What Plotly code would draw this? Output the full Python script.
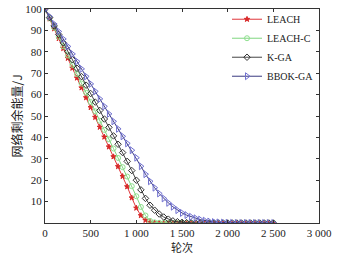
import plotly.graph_objects as go

rounds = list(range(0, 2501, 50))

leach = [100, 95.4, 90.8, 86.2, 81.6, 77.0, 72.4, 67.8, 63.2, 58.6,
         54.0, 49.4, 44.8, 40.2, 35.6, 31.0, 26.4, 21.8, 17.0, 11.8,
         7.0, 3.5, 1.3, 0.4, 0.1, 0, 0, 0, 0, 0,
         0, 0, 0, 0, 0, 0, 0, 0, 0, 0,
         0, 0, 0, 0, 0, 0, 0, 0, 0, 0, 0]

leach_c = [100, 95.7, 91.3, 87.0, 82.6, 78.3, 73.9, 69.6, 65.2, 60.9,
           56.5, 52.2, 47.8, 43.5, 39.1, 34.8, 30.4, 26.1, 21.7, 17.2,
           12.5, 7.5, 3.5, 1.0, 0.3, 0.1, 0, 0, 0, 0,
           0, 0, 0, 0, 0, 0, 0, 0, 0, 0,
           0, 0, 0, 0, 0, 0, 0, 0, 0, 0, 0]

k_ga = [100, 96.0, 92.1, 88.1, 84.2, 80.2, 76.3, 72.3, 68.4, 64.4,
        60.5, 56.5, 52.6, 48.6, 44.7, 40.7, 36.8, 32.9, 28.8, 24.5,
        20.0, 15.5, 11.5, 8.3, 6.0, 4.2, 2.8, 1.8, 1.0, 0.6,
        0.3, 0.15, 0.05, 0, 0, 0, 0, 0, 0, 0,
        0, 0, 0, 0, 0, 0, 0, 0, 0, 0, 0]

bbok_ga = [100, 96.5, 93.0, 89.5, 86.0, 82.5, 79.0, 75.5, 72.0, 68.5,
           65.0, 61.5, 58.0, 54.5, 51.0, 47.5, 44.0, 40.5, 37.2, 34.0,
           30.5, 26.5, 22.8, 19.5, 16.5, 13.8, 11.5, 9.4, 7.6, 6.0,
           4.7, 3.7, 2.9, 2.2, 1.6, 1.1, 0.7, 0.45, 0.3, 0.2,
           0.1, 0.05, 0, 0, 0, 0, 0, 0, 0, 0, 0]

x_tickvals = [0, 500, 1000, 1500, 2000, 2500, 3000]
x_ticktext = ["0", "500", "1 000", "1 500", "2 000", "2 500", "3 000"]
y_tickvals = [10, 20, 30, 40, 50, 60, 70, 80, 90, 100]
y_ticktext = ["10", "20", "30", "40", "50", "60", "70", "80", "90", "100"]

series = [
    ("LEACH", leach, "#e0353a", "#d82828", "star", 4),
    ("LEACH-C", leach_c, "#7fd67f", "#8ee08e", "circle-open", 5),
    ("K-GA", k_ga, "#444444", "#333333", "diamond-open", 5),
    ("BBOK-GA", bbok_ga, "#3a3a80", "#7070d0", "triangle-right-open", 6),
]

fig = go.Figure()
for name, vals, lc, mc, sym, sz in series:
    fig.add_trace(go.Scatter(
        x=rounds, y=vals, name=name, mode="lines+markers",
        line=dict(color=lc, width=1),
        marker=dict(symbol=sym, size=sz, color=mc, line=dict(color=mc, width=1)),
    ))

serif = "Liberation Serif, Times New Roman, serif"
cjk = "Noto Sans CJK SC"

fig.update_layout(
    width=337, height=258,
    margin=dict(l=45, r=18, t=9, b=35, autoexpand=False),
    paper_bgcolor="white", plot_bgcolor="white",
    font=dict(family=serif, size=10, color="#222222"),
    showlegend=True,
    legend=dict(
        x=1.0, xanchor="right", y=1.02, yanchor="top",
        bgcolor="rgba(255,255,255,0)", borderwidth=0,
        font=dict(family=serif, size=10, color="#222222"),
        itemwidth=30,
    ),
    xaxis=dict(
        range=[0, 3000], tickvals=x_tickvals, ticktext=x_ticktext,
        ticks="inside", ticklen=3, tickcolor="#333333",
        showline=True, linecolor="#333333", linewidth=1, mirror="allticks",
        showgrid=False, zeroline=False, automargin=False,
        ticklabeloverflow="allow",
        tickfont=dict(family=serif, size=11),
        title=dict(text="轮次", font=dict(family=cjk, size=11), standoff=4),
    ),
    yaxis=dict(
        range=[0, 100], tickvals=y_tickvals, ticktext=y_ticktext,
        ticks="inside", ticklen=3, tickcolor="#333333",
        showline=True, linecolor="#333333", linewidth=1, mirror="allticks",
        showgrid=False, zeroline=False, automargin=False,
        ticklabeloverflow="allow",
        tickfont=dict(family=serif, size=11),
        title=dict(text="网络剩余能量/J", font=dict(family=cjk, size=12), standoff=0),
    ),
)

fig.write_html("out.html", config={"displayModeBar": False},
               post_script="document.body.style.margin='0';")
